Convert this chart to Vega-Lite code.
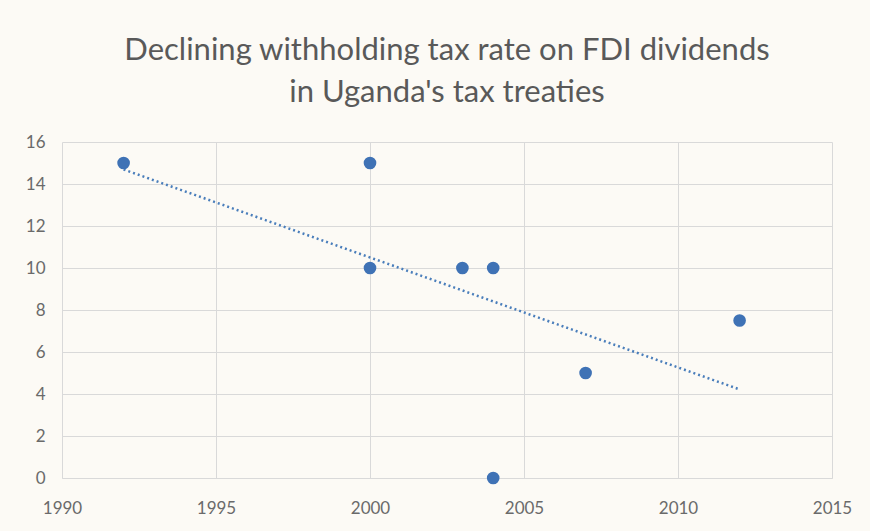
{
  "$schema": "https://vega.github.io/schema/vega-lite/v6.json",
  "width": 770,
  "height": 336,
  "autosize": {"type": "none"},
  "padding": {"left": 62, "top": 142, "right": 38, "bottom": 53},
  "background": "#fcfaf5",
  "title": {
    "text": ["Declining withholding tax rate on FDI dividends", "in Uganda's tax treaties"],
    "font": "Lato",
    "fontSize": 31,
    "fontWeight": "normal",
    "color": "#595959",
    "anchor": "middle",
    "lineHeight": 42,
    "offset": 24
  },
  "config": {
    "view": {"stroke": null},
    "axis": {
      "labelFont": "Lato",
      "labelFontSize": 17,
      "labelColor": "#6a6a6a",
      "gridColor": "#d9d9d9",
      "gridWidth": 1,
      "ticks": false,
      "title": null
    }
  },
  "data": {
    "values": [
      {"year": 1992, "rate": 15},
      {"year": 2000, "rate": 15},
      {"year": 2000, "rate": 10},
      {"year": 2003, "rate": 10},
      {"year": 2004, "rate": 10},
      {"year": 2004, "rate": 0},
      {"year": 2007, "rate": 5},
      {"year": 2012, "rate": 7.5}
    ]
  },
  "encoding": {
    "x": {
      "field": "year",
      "type": "quantitative",
      "scale": {"domain": [1990, 2015], "nice": false, "zero": false},
      "axis": {"values": [1990, 1995, 2000, 2005, 2010, 2015], "format": "d", "labelPadding": 22, "domain": true, "domainColor": "#d9d9d9", "labelFlush": false}
    },
    "y": {
      "field": "rate",
      "type": "quantitative",
      "scale": {"domain": [0, 16], "nice": false},
      "axis": {"values": [0, 2, 4, 6, 8, 10, 12, 14, 16], "labelPadding": 17, "domain": false}
    }
  },
  "layer": [
    {
      "transform": [{"regression": "rate", "on": "year"}],
      "mark": {"type": "line", "color": "#4a7ebb", "strokeWidth": 2.5, "strokeDash": [2, 3]}
    },
    {
      "mark": {"type": "point", "filled": true, "size": 160, "color": "#3f72b5", "opacity": 1}
    }
  ]
}
